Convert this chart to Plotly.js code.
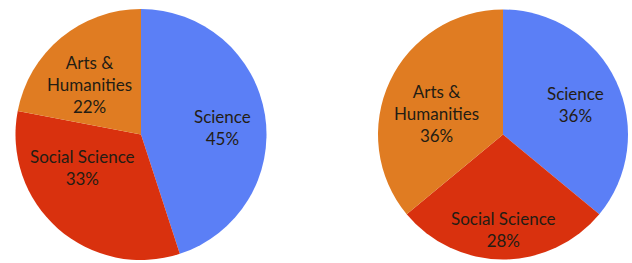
<!DOCTYPE html>
<html>
<head>
<meta charset="utf-8">
<script src="https://cdn.plot.ly/plotly-3.0.1.min.js"></script>
<style>html,body{margin:0;padding:0;background:#fff;}#chart{width:632px;height:263px;}</style>
</head>
<body>
<div id="chart"></div>
<script>
const categories = ["Science", "Social Science", "Arts & Humanities"];
const labelText = ["Science", "Social Science", "Arts &<br>Humanities"];
const valuesLeft = [45, 33, 22];
const valuesRight = [36, 28, 36];
const colors = ["#5B7FF6", "#D9310E", "#E07C22"];

const W = 632, H = 263;
// label placement (pixel centres) for each slice, left chart then right chart
const labelPosLeft = [[222, 128], [82.5, 167], [89, 84.5]];
const labelPosRight = [[575, 104.5], [503, 229], [436, 114]];

function makePie(values, domainX) {
  return {
    type: "pie",
    labels: categories,
    values: values,
    textinfo: "none",
    sort: false,
    direction: "clockwise",
    rotation: 0,
    marker: { colors: colors, line: { width: 0 } },
    hoverinfo: "none",
    domain: { x: domainX, y: [3 / H, 254 / H] }
  };
}

function makeLabels(values, positions) {
  return values.map((v, i) => ({
    text: labelText[i] + "<br>" + v + "%",
    x: positions[i][0] / W,
    y: 1 - positions[i][1] / H,
    xref: "paper",
    yref: "paper",
    xanchor: "center",
    yanchor: "middle",
    showarrow: false,
    align: "center",
    font: { family: "Lato, 'Open Sans', sans-serif", size: 17, color: "#241d14" }
  }));
}

const data = [
  makePie(valuesLeft, [15 / W, 267 / W]),
  makePie(valuesRight, [378 / W, 628 / W])
];

const layout = {
  width: W,
  height: H,
  margin: { l: 0, r: 0, t: 0, b: 0 },
  showlegend: false,
  paper_bgcolor: "#ffffff",
  plot_bgcolor: "#ffffff",
  annotations: makeLabels(valuesLeft, labelPosLeft).concat(makeLabels(valuesRight, labelPosRight))
};

Plotly.newPlot("chart", data, layout, { staticPlot: true, displayModeBar: false });
</script>
</body>
</html>
